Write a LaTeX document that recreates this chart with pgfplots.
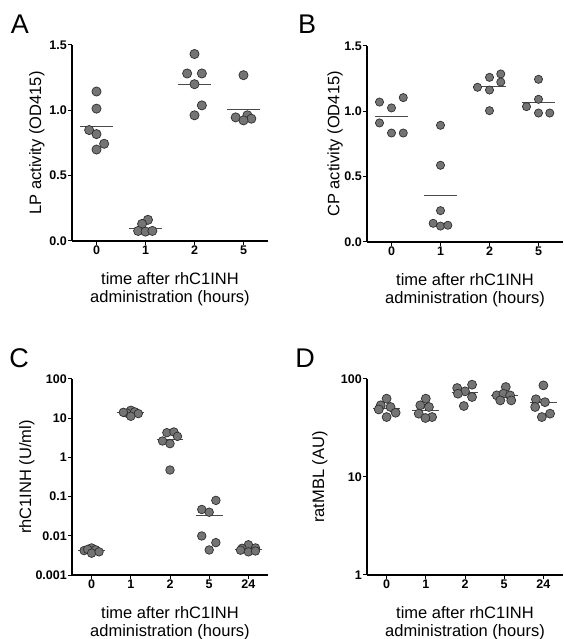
\documentclass[border=0pt]{standalone}
\usepackage{pgfplots}
\pgfplotsset{compat=1.18}
\usepackage{fontspec}
\setmainfont{Liberation Sans}

\definecolor{dotfill}{HTML}{747474}
\definecolor{dotedge}{HTML}{2E2E2E}
\definecolor{meangray}{HTML}{4A4A4A}

\pgfplotsset{
  panel/.style={
    scale only axis, width=196pt, height=196pt,
    axis lines=left, axis line style={-, line width=1.1pt, black},
    tick align=outside, major tick length=4pt,
    tick style={line width=1pt, black},
    tick label style={font=\fontsize{12.5}{13}\selectfont\bfseries, inner sep=1pt},
    label style={font=\fontsize{16.5}{18}\selectfont},
    xlabel={time after rhC1INH\\administration (hours)},
    xlabel style={align=center, at={(axis description cs:0.5,0)}, anchor=north, yshift=-31pt, inner sep=0pt},
    clip=false,
  },
  dots/.style={only marks, mark=*, mark size=4.4pt,
    mark options={fill=dotfill, draw=dotedge, line width=0.7pt}},
  mean/.style={meangray, line width=1pt, no marks, forget plot},
}

\begin{document}
\begin{tikzpicture}
\useasboundingbox (0pt,0pt) rectangle (563pt,639pt);

% ---------- A: LP activity ----------
\begin{axis}[panel, at={(72pt,398pt)}, anchor=south west,
  xmin=-0.5, xmax=3.5, ymin=0, ymax=1.5,
  xtick={0,1,2,3}, xticklabels={0,1,2,5},
  ytick={0,0.5,1,1.5}, yticklabels={0.0,0.5,1.0,1.5},
  ylabel={LP activity (OD415)},
  ylabel style={at={(axis description cs:-0.179,0.5)}, anchor=center}]
\addplot[dots, mark size=4.6pt] coordinates {
  (0,1.144) (0,1.013) (-0.15,0.849) (0,0.818) (0.156,0.744) (0,0.700)
  (1.05,0.162) (0.93,0.131) (0.85,0.077) (1.0,0.072) (1.14,0.077)
  (2,1.431) (1.85,1.282) (2.15,1.282) (2,1.2) (2.15,1.038) (2,0.962)
  (3,1.269) (2.84,0.946) (3.08,0.962) (3.16,0.936) (3,0.923)
};
\addplot[mean] coordinates {(-0.34,0.879) (0.34,0.879)};
\addplot[mean] coordinates {(0.66,0.097) (1.34,0.097)};
\addplot[mean] coordinates {(1.66,1.200) (2.34,1.200)};
\addplot[mean] coordinates {(2.66,1.008) (3.34,1.008)};
\end{axis}

% ---------- B: CP activity ----------
\begin{axis}[panel, at={(367pt,397pt)}, anchor=south west,
  xmin=-0.5, xmax=3.5, ymin=0, ymax=1.5,
  xtick={0,1,2,3}, xticklabels={0,1,2,5},
  ytick={0,0.5,1,1.5}, yticklabels={0.0,0.5,1.0,1.5},
  ylabel={CP activity (OD415)},
  ylabel style={at={(axis description cs:-0.163,0.5)}, anchor=center}]
\addplot[dots, mark size=4.1pt] coordinates {
  (-0.245,1.071) (0.24,1.105) (0,1.026) (-0.245,0.911) (0,0.834) (0.24,0.834)
  (1,0.893) (1,0.587) (1,0.240) (0.85,0.143) (1,0.122) (1.15,0.128)
  (1.755,1.184) (2,1.26) (2.23,1.286) (2.23,1.224) (2,1.163) (2,1.005)
  (3,1.245) (3,1.092) (2.755,1.036) (3,0.987) (3.23,0.987)
};
\addplot[mean] coordinates {(-0.34,0.964) (0.34,0.964)};
\addplot[mean] coordinates {(0.66,0.355) (1.34,0.355)};
\addplot[mean] coordinates {(1.66,1.189) (2.34,1.189)};
\addplot[mean] coordinates {(2.66,1.071) (3.34,1.071)};
\end{axis}

% ---------- C: rhC1INH ----------
\begin{axis}[panel, at={(72pt,64pt)}, anchor=south west,
  ymode=log, log basis y=10, yminorticks=false,
  xmin=-0.5, xmax=4.5, ymin=0.001, ymax=100,
  xtick={0,1,2,3,4}, xticklabels={0,1,2,5,24},
  ytick={0.001,0.01,0.1,1,10,100}, yticklabels={0.001,0.01,0.1,1,10,100},
  ylabel={rhC1INH (U/ml)},
  ylabel style={at={(axis description cs:-0.23,0.5)}, anchor=center}]
\addplot[dots, mark size=4.3pt] coordinates {
  (-0.19,0.0042) (0,0.0049) (-0.1,0.0045) (0.1,0.0044) (0,0.0036) (0.19,0.0039)
  (1,15.9) (0.9,13.5) (1.1,14.5) (0.81,14.1) (1.19,13.1) (1,11.2)
  (1.92,4.27) (2.1,4.45) (2.19,3.44) (1.81,2.62) (2,2.24) (2,0.477)
  (3.17,0.080) (2.81,0.047) (3.0,0.040) (2.81,0.0099) (3.17,0.0067) (3.0,0.00435)
  (4,0.0059) (3.84,0.0048) (4.18,0.0049) (3.8,0.0043) (4,0.0039) (4.18,0.0041)
};
\addplot[mean] coordinates {(-0.34,0.0043) (0.34,0.0043)};
\addplot[mean] coordinates {(0.66,14.0) (1.34,14.0)};
\addplot[mean] coordinates {(1.66,2.92) (2.34,2.92)};
\addplot[mean] coordinates {(2.66,0.032) (3.34,0.032)};
\addplot[mean] coordinates {(3.66,0.0046) (4.34,0.0046)};
\end{axis}

% ---------- D: ratMBL ----------
\begin{axis}[panel, at={(367pt,64pt)}, anchor=south west,
  ymode=log, log basis y=10, yminorticks=false,
  xmin=-0.5, xmax=4.5, ymin=1, ymax=100,
  xtick={0,1,2,3,4}, xticklabels={0,1,2,5,24},
  ytick={1,10,100}, yticklabels={1,10,100},
  ylabel={ratMBL (AU)},
  ylabel style={at={(axis description cs:-0.24,0.5)}, anchor=center}]
\addplot[dots, mark size=4.5pt] coordinates {
  (0,63.0) (-0.15,53.9) (0.1,51.8) (-0.2,48.9) (0.23,45.3) (0,40.9)
  (1,63.0) (0.86,53.9) (1.08,51.8) (0.82,44.3) (1.16,40.9) (0.99,40.0)
  (2.18,87.5) (1.8,80.9) (2.0,74.8) (2.18,65.5) (1.82,70.8) (1.97,53.0)
  (3.04,82.8) (2.81,68.1) (2.98,70.8) (3.15,68.0) (2.9,60.5) (3.18,60.5)
  (4,86.1) (3.81,62.1) (4.04,58.0) (3.79,51.8) (4.17,44.3) (3.96,40.9)
};
\addplot[mean] coordinates {(-0.34,49.8) (0.34,49.8)};
\addplot[mean] coordinates {(0.66,47.9) (1.34,47.9)};
\addplot[mean] coordinates {(1.66,72.6) (2.34,72.6)};
\addplot[mean] coordinates {(2.66,68.1) (3.34,68.1)};
\addplot[mean] coordinates {(3.66,57.4) (4.34,57.4)};
\end{axis}

% panel letters
\node[font=\fontsize{27}{27}\selectfont] at (20pt,615pt) {A};
\node[font=\fontsize{27}{27}\selectfont] at (307pt,615pt) {B};
\node[font=\fontsize{27}{27}\selectfont] at (19pt,281pt) {C};
\node[font=\fontsize{27}{27}\selectfont] at (305pt,281pt) {D};
\end{tikzpicture}
\end{document}
